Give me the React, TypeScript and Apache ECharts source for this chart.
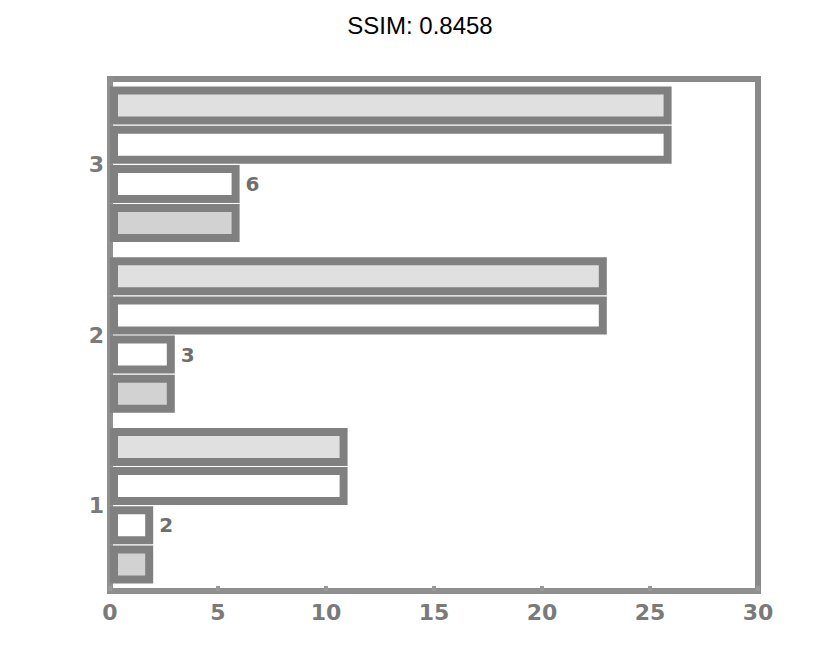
import React, { useEffect, useRef } from "react";
import * as echarts from "echarts";

const categories = ["1", "2", "3"];
const bigTop = [11, 23, 26];
const bigBottom = [11, 23, 26];
const smallTop = [2, 3, 6];
const smallBottom = [2, 3, 6];
const xTicks = { min: 0, max: 30, interval: 5 };

export default function App() {
  const ref = useRef<HTMLDivElement>(null);
  useEffect(() => {
    if (!ref.current) return;
    const chart = echarts.init(ref.current, null, { renderer: "svg" });
    const edge = "#808080";
    const barBase = {
      type: "bar" as const,
      barWidth: 38,
      barGap: "3%",
      barCategoryGap: 0,
    };
    chart.setOption({
      animation: false,
      backgroundColor: "#ffffff",
      title: {
        text: "SSIM: 0.8458",
        left: "center",
        top: 0,
        textStyle: {
          fontFamily: "Liberation Sans, Arial, sans-serif",
          fontSize: 24,
          fontWeight: "normal",
          color: "#000",
        },
      },
      grid: {
        left: 102,
        right: 74,
        top: 71,
        bottom: 65,
        show: true,
        borderColor: "#8a8a8a",
        borderWidth: 6,
        backgroundColor: "transparent",
      },
      xAxis: {
        type: "value",
        min: xTicks.min,
        max: xTicks.max,
        interval: xTicks.interval,
        splitLine: { show: false },
        axisLine: { show: true, lineStyle: { color: "#8f8f8f", width: 6 } },
        axisTick: { show: true, inside: true, length: 5, lineStyle: { color: "#999", width: 4 } },
        axisLabel: {
          color: "#7a7a7a",
          fontSize: 22,
          fontWeight: "bold",
          fontFamily: "DejaVu Sans, sans-serif",
          margin: 10,
        },
      },
      yAxis: {
        type: "category",
        data: categories,
        axisLine: { show: true, lineStyle: { color: "#8f8f8f", width: 6 } },
        axisTick: { show: false },
        axisLabel: {
          color: "#7a7a7a",
          fontSize: 22,
          fontWeight: "bold",
          fontFamily: "DejaVu Sans, sans-serif",
          margin: 6,
        },
      },
      series: [
        {
          ...barBase,
          name: "bigTop",
          data: bigTop,
          itemStyle: { color: "#e0e0e0", borderColor: edge, borderWidth: 8 },
        },
        {
          ...barBase,
          name: "bigBottom",
          data: bigBottom,
          itemStyle: { color: "#ffffff", borderColor: edge, borderWidth: 8 },
        },
        {
          ...barBase,
          name: "smallTop",
          data: smallTop,
          itemStyle: { color: "#ffffff", borderColor: edge, borderWidth: 8 },
          label: {
            show: true,
            position: "right",
            distance: 6,
            color: "#6f6f6f",
            fontSize: 20,
            fontWeight: "bold",
            fontFamily: "DejaVu Sans, sans-serif",
          },
        },
        {
          ...barBase,
          name: "smallBottom",
          data: smallBottom,
          itemStyle: { color: "#d2d2d2", borderColor: edge, borderWidth: 8 },
        },
      ],
    });
    return () => chart.dispose();
  }, []);
  return <div ref={ref} style={{ width: 824, height: 648 }} />;
}
